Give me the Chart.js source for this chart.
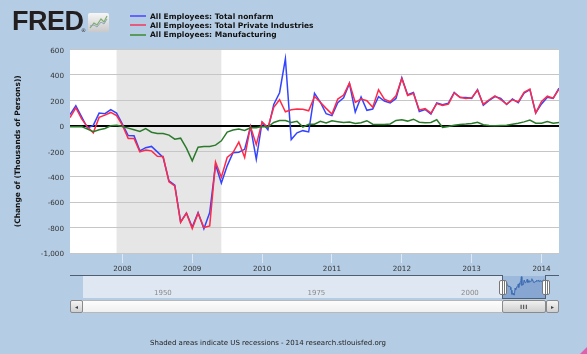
<!DOCTYPE html>
<html>
<head>
<meta charset="utf-8">
<script src="https://cdn.jsdelivr.net/npm/chart.js@4.4.1/dist/chart.umd.min.js"></script>
<style>
  body { margin: 0; }
  #page { position: relative; width: 587px; height: 354px; background: #b5cde4; overflow: hidden;
          font-family: "DejaVu Sans", Verdana, sans-serif; }
  #myChart { position: absolute; left: 0; top: 0; }
  #logo { position: absolute; left: 12px; top: 6px; font: 900 27px "Liberation Sans", Arial, sans-serif;
          color: #231f20; letter-spacing: -0.5px; }
  #reg { position: absolute; left: 81px; top: 27px; font-size: 5px; color: #231f20; }
  #icon { position: absolute; left: 88px; top: 13px; width: 21px; height: 19px; border-radius: 2px;
          background: linear-gradient(#f6f6f6, #c9c9c9); }
  #legend { position: absolute; left: 130px; top: 11.5px; font: bold 7.5px "DejaVu Sans", sans-serif; color: #111; }
  #legend .row { height: 9.3px; display: flex; align-items: center; white-space: nowrap; }
  #legend .sw { width: 16px; height: 2px; margin-right: 4px; }
  .nav { position: absolute; }
  .navlbl { position: absolute; top: 288.5px; font: 7px "DejaVu Sans", sans-serif; color: #8a8a8a; }
  #foot { position: absolute; left: 150px; top: 338.5px; font: 7px "DejaVu Sans", sans-serif; color: #222; white-space: nowrap; }
</style>
</head>
<body>
<div id="page">
  <canvas id="myChart" width="587" height="354"></canvas>

  <div id="logo">FRED</div>
  <div id="reg">&reg;</div>
  <div id="icon">
    <svg width="21" height="19" viewBox="0 0 21 19">
      <polyline points="2,15 6,10 9,12 13,6 16,9 19,3" fill="none" stroke="#7fae6a" stroke-width="1.2"/>
      <polyline points="2,13 6,12 9,14 13,9 16,11 19,6" fill="none" stroke="#8fa4bf" stroke-width="1"/>
    </svg>
  </div>
  <div id="legend"></div>

  <!-- navigator -->
  <div class="nav" style="left:82.5px;top:275.5px;width:419.5px;height:22.5px;background:#dfe8f2;"></div>
  <div class="nav" style="left:502px;top:275.5px;width:43.5px;height:22.5px;background:#9cb8db;"></div>
  <canvas id="navChart" class="nav" width="44" height="22" style="left:502px;top:276px;"></canvas>
  <div class="nav" style="left:70px;top:275px;width:432px;height:1px;background:#4f5f70;"></div>
  <div class="nav" style="left:545.5px;top:275px;width:13.5px;height:1px;background:#4f5f70;"></div>
  <div class="nav" style="left:502px;top:275px;width:1px;height:23px;background:#4f5f70;"></div>
  <div class="nav" style="left:545px;top:275px;width:1px;height:23px;background:#4f5f70;"></div>
  <div class="nav" style="left:502px;top:297.5px;width:44px;height:1px;background:#4f5f70;"></div>
  <div class="nav" style="left:498.5px;top:280px;width:6px;height:13px;background:#fff;border:1px solid #777;border-radius:2px;
       background-image:linear-gradient(90deg,transparent 2px,#777 2px,#777 3px,transparent 3px,transparent 4px,#777 4px,#777 5px,transparent 5px);"></div>
  <div class="nav" style="left:542px;top:280px;width:6px;height:13px;background:#fff;border:1px solid #777;border-radius:2px;
       background-image:linear-gradient(90deg,transparent 2px,#777 2px,#777 3px,transparent 3px,transparent 4px,#777 4px,#777 5px,transparent 5px);"></div>
  <span class="navlbl" style="left:154px;">1950</span>
  <span class="navlbl" style="left:307.5px;">1975</span>
  <span class="navlbl" style="left:461px;">2000</span>

  <!-- scrollbar -->
  <div class="nav" style="left:82.5px;top:299.5px;width:419.5px;height:11px;background:linear-gradient(#fdfdfd,#f0f0f0);border-top:1px solid #b8b8b8;border-bottom:1px solid #b8b8b8;"></div>
  <div class="nav" style="left:70px;top:299.5px;width:11px;height:11px;background:linear-gradient(#f4f4f4,#d0d0d0);border:1px solid #8a8a8a;border-radius:2px;
       font:6px 'DejaVu Sans';line-height:11px;text-align:center;color:#444;">&#9666;</div>
  <div class="nav" style="left:502px;top:299.5px;width:42px;height:11px;background:linear-gradient(#f0f0f0,#cfcfcf);border:1px solid #8a8a8a;border-radius:2px;
       font:bold 6px 'DejaVu Sans';line-height:11px;text-align:center;color:#555;letter-spacing:0.5px;">III</div>
  <div class="nav" style="left:546px;top:299.5px;width:11px;height:11px;background:linear-gradient(#f4f4f4,#d0d0d0);border:1px solid #8a8a8a;border-radius:2px;
       font:6px 'DejaVu Sans';line-height:11px;text-align:center;color:#444;">&#9656;</div>

  <div id="foot">Shaded areas indicate US recessions - 2014 research.stlouisfed.org</div>
  <div class="nav" style="right:0;bottom:0;width:0;height:0;border-left:7px solid transparent;border-bottom:7px solid #e060b0;"></div>
</div>

<script>
// monthly categories, Apr 2007 - Apr 2014
const months = [];
for (let y = 2007, m = 4; y < 2014 || (y === 2014 && m <= 4); m++) {
  if (m > 12) { m = 1; y++; }
  if (y === 2014 && m > 4) break;
  months.push(y + "-" + String(m).padStart(2, "0"));
}

const seriesNames = [
  "All Employees: Total nonfarm",
  "All Employees: Total Private Industries",
  "All Employees: Manufacturing",
];
const yTitle = "(Change of (Thousands of Persons))";

// change, thousands of persons
const totalNonfarm = [
  88, 157, 70, -18, 3, 100, 95, 127, 100,
  14, -76, -78, -197, -172, -162, -205, -249, -433, -467, -756, -686,
  -795, -682, -810, -682, -305, -450, -315, -212, -208, -185, -8, -262,
  28, -32, 168, 260, 527, -108, -55, -38, -48, 255, 186, 95,
  80, 182, 220, 333, 108, 227, 122, 132, 230, 195, 180, 215,
  378, 245, 262, 112, 128, 92, 180, 165, 178, 262, 222, 222,
  216, 285, 162, 200, 230, 216, 168, 212, 181, 258, 285, 102,
  172, 225, 215, 296,
];
const totalPrivate = [
  65, 142, 55, -8, -55, 66, 84, 105, 80,
  5, -100, -100, -205, -191, -197, -240, -241, -441, -472, -760, -687,
  -808, -687, -800, -787, -285, -404, -249, -210, -128, -249, -5, -148,
  31, -13, 145, 205, 110, 126, 132, 130, 118, 230, 185, 137,
  92, 210, 242, 336, 184, 210, 197, 145, 283, 210, 189, 236,
  372, 238, 255, 125, 135, 100, 175, 160, 170, 258, 225, 215,
  220, 280, 170, 205, 236, 205, 171, 205, 189, 263, 289, 100,
  192, 233, 217, 289,
];
const manufacturing = [
  -8, -8, -5, -26, -47, -31, -21, 0, 5,
  -5, -18, -31, -45, -22, -50, -60, -60, -73, -105, -97, -175,
  -275, -168, -162, -162, -152, -118, -50, -33, -26, -37, -15, -15,
  -5, -10, 26, 42, 42, 26, 36, -10, 12, 12, 35, 22,
  39, 32, 26, 30, 18, 24, 40, 13, 11, 10, 15, 42,
  47, 37, 52, 28, 24, 26, 48, -12, -6, 5, 11, 14,
  19, 28, 8, 3, 0, 2, 4, 13, 21, 31, 45, 21,
  21, 34, 21, 26,
];

const recession = ["2007-12", "2009-06"];
const yTicks = [-1000, -800, -600, -400, -200, 0, 200, 400, 600];

const colors = ["#3344ff", "#ff2a48", "#2b7a2b"];
const legendColors = ["#6464ff", "#e45c80", "#5a9a5a"];

const yearIdx = months.map((m, i) => (m.endsWith("-01") ? i : -1)).filter(i => i >= 0);
const toPoints = arr => arr.map((v, i) => ({ x: i, y: v }));

// legend
const legend = document.getElementById("legend");
seriesNames.forEach((name, i) => {
  const row = document.createElement("div");
  row.className = "row";
  row.innerHTML = '<span class="sw" style="background:' + legendColors[i] + '"></span>' + name;
  legend.appendChild(row);
});

const plotBg = {
  id: "plotBg",
  beforeDraw(chart) {
    const { ctx, chartArea: a, scales: { x } } = chart;
    ctx.save();
    ctx.fillStyle = "#ffffff";
    ctx.fillRect(a.left, a.top, a.width, a.height);
    const x0 = x.getPixelForValue(months.indexOf(recession[0]));
    const x1 = x.getPixelForValue(months.indexOf(recession[1]));
    ctx.fillStyle = "#e6e6e6";
    ctx.fillRect(x0, a.top, x1 - x0, a.height);
    ctx.restore();
  },
};

const tickFont = { family: "DejaVu Sans", size: 7.2 };

const ctx = document.getElementById("myChart");
const myChart = new Chart(ctx, {
  type: "line",
  data: {
    datasets: [
      { label: seriesNames[0], data: toPoints(totalNonfarm), borderColor: colors[0], order: 2 },
      { label: seriesNames[1], data: toPoints(totalPrivate), borderColor: colors[1], order: 1 },
      { label: seriesNames[2], data: toPoints(manufacturing), borderColor: colors[2], order: 0 },
    ],
  },
  options: {
    responsive: false,
    animation: false,
    devicePixelRatio: 1,
    layout: { padding: { left: 0, top: 49.5, right: 28, bottom: 0 } },
    elements: {
      point: { radius: 0 },
      line: { borderWidth: 1.5, tension: 0 },
    },
    plugins: {
      legend: { display: false },
      tooltip: { enabled: false },
    },
    scales: {
      x: {
        type: "linear",
        min: 0,
        max: months.length - 1,
        afterBuildTicks: (s) => { s.ticks = yearIdx.map(v => ({ value: v })); },
        afterFit: (s) => { s.height = 101; },
        ticks: {
          autoSkip: false,
          maxRotation: 0,
          padding: 2,
          color: "#333",
          font: tickFont,
          callback: (v) => months[v].slice(0, 4),
        },
        grid: { drawOnChartArea: false, tickLength: 10, color: "rgba(255,255,255,0.55)" },
        border: { display: false },
      },
      y: {
        min: -1000,
        max: 600,
        afterBuildTicks: (s) => { s.ticks = yTicks.map(v => ({ value: v })); },
        afterFit: (s) => { s.width = 70; },
        ticks: {
          padding: 6,
          labelOffset: 1.5,
          color: "#333",
          font: tickFont,
          callback: (v) => v.toLocaleString("en-US"),
        },
        grid: {
          drawTicks: false,
          color: (c) => (c.tick && c.tick.value === 0 ? "#000" : "#c6c6c6"),
          lineWidth: (c) => (c.tick && c.tick.value === 0 ? 2 : 1),
        },
        border: { display: false },
        title: {
          display: true,
          text: yTitle,
          color: "#111",
          font: { family: "DejaVu Sans", size: 7.5, weight: "bold" },
          padding: { top: 14, bottom: 0 },
        },
      },
    },
  },
  plugins: [plotBg],
});

// navigator: selected window of the total nonfarm series
const navChart = new Chart(document.getElementById("navChart"), {
  type: "line",
  data: {
    datasets: [{
      data: toPoints(totalNonfarm),
      borderColor: "#3f6db3",
      borderWidth: 1,
      backgroundColor: "rgba(63,109,179,0.22)",
      fill: "start",
      pointRadius: 0,
    }],
  },
  options: {
    responsive: false,
    animation: false,
    devicePixelRatio: 1,
    layout: { padding: 0 },
    plugins: { legend: { display: false }, tooltip: { enabled: false } },
    scales: {
      x: { type: "linear", min: 0, max: months.length - 1, display: false },
      y: { min: -1030, max: 575, display: false },
    },
  },
});
</script>
</body>
</html>
